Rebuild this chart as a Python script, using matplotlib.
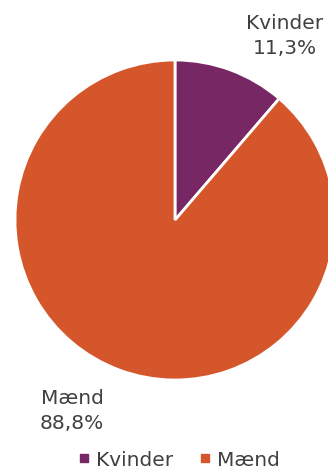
import matplotlib.pyplot as plt
from matplotlib.lines import Line2D

labels = ['Kvinder', 'Mænd']
values = [11.3, 88.8]
pct_text = ['11,3%', '88,8%']
colors = ['#772763', '#D6562B']
txt_col = '#404040'

W, H = 328, 472
fig = plt.figure(figsize=(W / 100, H / 100), dpi=100)
# pie centre at (175, 220) px, radius 160 px
ax = fig.add_axes([15 / W, (H - 380) / H, 320 / W, 320 / H])
ax.pie(values, colors=colors, startangle=90, counterclock=False,
       wedgeprops={'edgecolor': 'white', 'linewidth': 2}, radius=1)
ax.set_xlim(-1, 1); ax.set_ylim(-1, 1)
ax.set_aspect('equal')
ax.axis('off')

fig.text(285 / W, 1 - 36 / H, labels[0] + '\n' + pct_text[0], ha='center', va='center',
         fontsize=14.5, color=txt_col, linespacing=1.45)
fig.text(72 / W, 1 - 411 / H, labels[1] + '\n' + pct_text[1], ha='center', va='center',
         fontsize=14.5, color=txt_col, linespacing=1.45)

handles = [Line2D([], [], marker='s', ls='', color=c, markersize=5.5) for c in colors]
fig.legend(handles, labels, loc='center', bbox_to_anchor=(179 / W, 1 - 460 / H), ncol=2,
           frameon=False, fontsize=14.5, labelcolor=txt_col, handletextpad=0.3,
           columnspacing=1.3, handlelength=0.6, borderpad=0)

fig.savefig('out.png', dpi=100)
